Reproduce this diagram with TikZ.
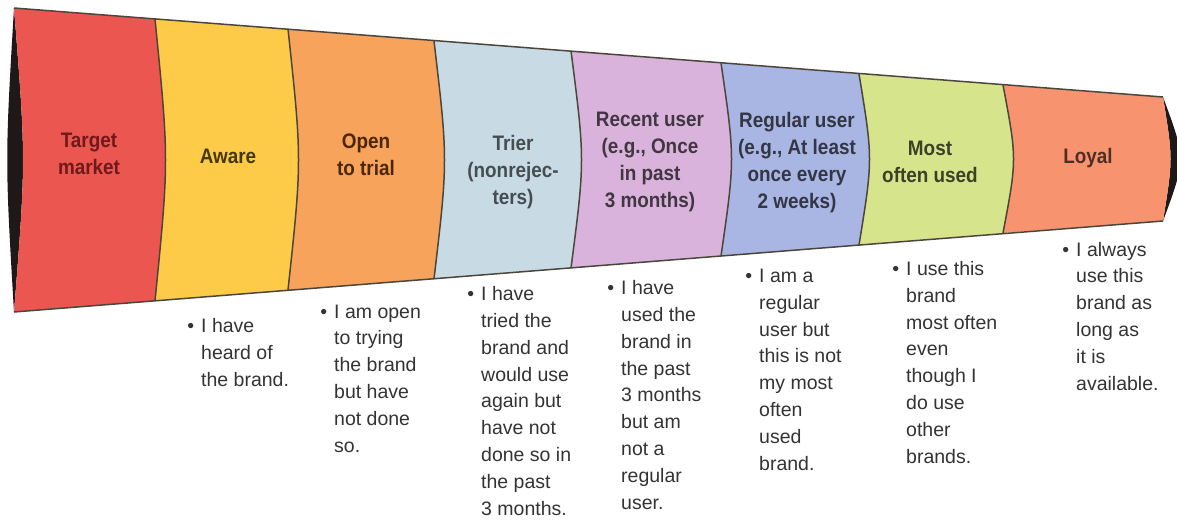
\documentclass[tikz,border=0pt]{standalone}
\usepackage{fontspec}
\setmainfont{Liberation Sans}
\newfontfamily\stagefont[FakeStretch=0.9]{Liberation Sans}
\usetikzlibrary{positioning}

% stage colours, left to right
\definecolor{targetred}{HTML}{EC5650}
\definecolor{awareyellow}{HTML}{FDCB48}
\definecolor{openorange}{HTML}{F7A35C}
\definecolor{trierblue}{HTML}{C8DBE5}
\definecolor{recentlilac}{HTML}{D9B3DC}
\definecolor{regularblue}{HTML}{A9B5E2}
\definecolor{mostlime}{HTML}{D6E48C}
\definecolor{loyalsalmon}{HTML}{F7946F}
\definecolor{targettext}{HTML}{6E1A1A}
\definecolor{awaretext}{HTML}{463805}
\definecolor{rimdark}{HTML}{1E1818}
\definecolor{edgegray}{HTML}{4A463C}
\definecolor{notegray}{HTML}{333333}

% bullet hanging left of the first line
\newcommand{\bul}{\llap{\textbullet\hspace{7pt}}}

\begin{document}
\begin{tikzpicture}[x=1pt, y=-1pt,
    stage/.style={anchor=base, align=center, inner sep=0pt, font=\stagefont\bfseries\fontsize{21}{26.8}\selectfont},
    note/.style={anchor=base west, align=left, inner sep=0pt, text=notegray, font=\fontsize{19.5}{26.8}\selectfont},
    divider/.style={draw=edgegray, line width=1.5pt}]

    \useasboundingbox (0,0) rectangle (1177,522);

    % funnel corners at each stage boundary (top / bottom)
    \coordinate (t0) at (14,8);    \coordinate (b0) at (14,312);
    \coordinate (t1) at (155,19);  \coordinate (b1) at (155,301);
    \coordinate (t2) at (288,29);  \coordinate (b2) at (288,290);
    \coordinate (t3) at (434,41);  \coordinate (b3) at (434,279);
    \coordinate (t4) at (571,51);  \coordinate (b4) at (571,268);
    \coordinate (t5) at (721,63);  \coordinate (b5) at (721,256);
    \coordinate (t6) at (859,74);  \coordinate (b6) at (859,245);
    \coordinate (t7) at (1003,85); \coordinate (b7) at (1003,233);
    \coordinate (t8) at (1163,97); \coordinate (b8) at (1163,221);

    % open ends of the funnel
    \fill[rimdark] (t0) .. controls (5,160) .. (b0) .. controls (26,160) .. (t0) -- cycle;
    \fill[rimdark] (t8) .. controls (1173,159) .. (b8) .. controls (1186,159) .. (t8) -- cycle;

    % stage bands
    \fill[targetred]   (t0) .. controls (26,160) .. (b0) -- (b1) .. controls (169,160) .. (t1) -- cycle;
    \fill[awareyellow] (t1) .. controls (169,160) .. (b1) -- (b2) .. controls (302,160) .. (t2) -- cycle;
    \fill[openorange]  (t2) .. controls (302,160) .. (b2) -- (b3) .. controls (448,160) .. (t3) -- cycle;
    \fill[trierblue]   (t3) .. controls (448,160) .. (b3) -- (b4) .. controls (585,160) .. (t4) -- cycle;
    \fill[recentlilac] (t4) .. controls (585,160) .. (b4) -- (b5) .. controls (735,159) .. (t5) -- cycle;
    \fill[regularblue] (t5) .. controls (735,159) .. (b5) -- (b6) .. controls (873,159) .. (t6) -- cycle;
    \fill[mostlime]    (t6) .. controls (873,159) .. (b6) -- (b7) .. controls (1017,159) .. (t7) -- cycle;
    \fill[loyalsalmon] (t7) .. controls (1017,159) .. (b7) -- (b8) .. controls (1173,159) .. (t8) -- cycle;

    % outline and stage dividers
    \draw[divider] (t0) -- (t8);
    \draw[divider] (b0) -- (b8);
    \draw[divider] (t1) .. controls (169,160) .. (b1);
    \draw[divider] (t2) .. controls (302,160) .. (b2);
    \draw[divider] (t3) .. controls (448,160) .. (b3);
    \draw[divider] (t4) .. controls (585,160) .. (b4);
    \draw[divider] (t5) .. controls (735,159) .. (b5);
    \draw[divider] (t6) .. controls (873,159) .. (b6);
    \draw[divider] (t7) .. controls (1017,159) .. (b7);

    % stage names (placed by the baseline of their last line)
    \node[stage, text=targettext] (target) at (89,174) {Target\\market};
    \node[stage, text=awaretext] (aware) at (228,163) {Aware};
    \node[stage, text=black!70!orange] (open) at (366,175) {Open\\to trial};
    \node[stage, text=black!65!trierblue] (trier) at (513,204) {Trier\\(nonrejec-\\ters)};
    \node[stage, text=black!70!recentlilac] (recent) at (650,207) {Recent user\\(e.g., Once\\in past\\3 months)};
    \node[stage, text=black!70!regularblue] (regular) at (797,208) {Regular user\\(e.g., At least\\once every\\2 weeks)};
    \node[stage, text=black!72!mostlime] (most) at (930,182) {Most\\often used};
    \node[stage, text=black!68!loyalsalmon] (loyal) at (1088,163) {Loyal};

    % what each stage means
    \node[note] (aware-d) at (201,386) {\bul I have\\heard of\\the brand.};
    \node[note] (open-d) at (334,452) {\bul I am open\\to trying\\the brand\\but have\\not done\\so.};
    \node[note] (trier-d) at (481,515) {\bul I have\\tried the\\brand and\\would use\\again but\\have not\\done so in\\the past\\3 months.};
    \node[note] (recent-d) at (621,509) {\bul I have\\used the\\brand in\\the past\\3 months\\but am\\not a\\regular\\user.};
    \node[note] (regular-d) at (759,470) {\bul I am a\\regular\\user but\\this is not\\my most\\often\\used\\brand.};
    \node[note] (most-d) at (906,463) {\bul I use this\\brand\\most often\\even\\though I\\do use\\other\\brands.};
    \node[note] (loyal-d) at (1076,390) {\bul I always\\use this\\brand as\\long as\\it is\\available.};

\end{tikzpicture}
\end{document}
